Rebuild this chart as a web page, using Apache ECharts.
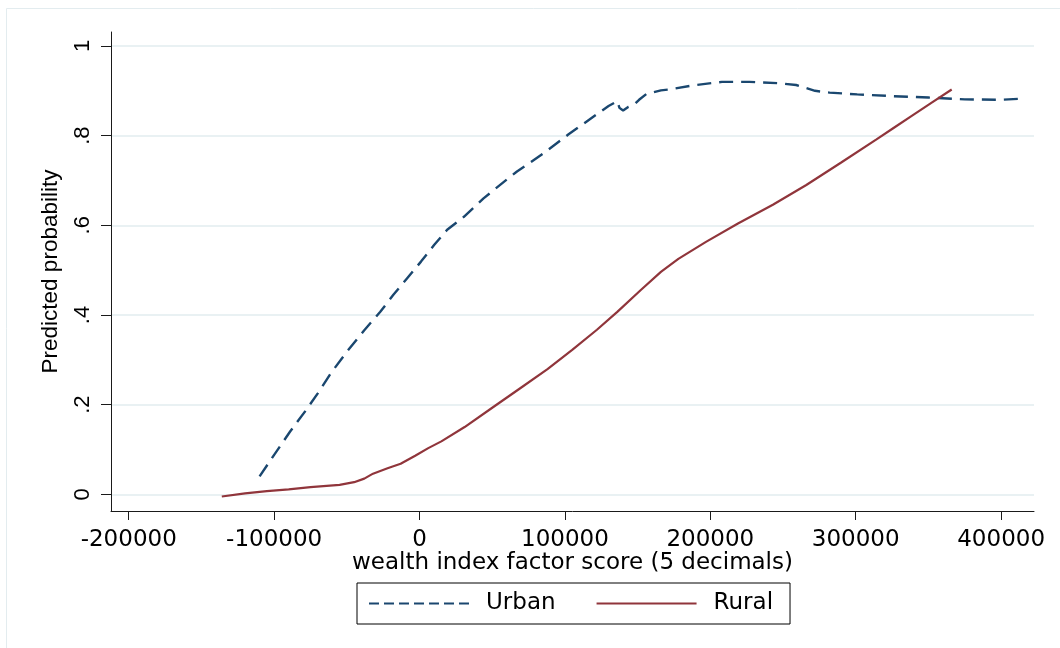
<!DOCTYPE html>
<html>
<head>
<meta charset="utf-8">
<script src="https://cdn.jsdelivr.net/npm/echarts@6/dist/echarts.min.js"></script>
<style>
html,body{margin:0;padding:0;background:#fff;}
#chart{width:1060px;height:648px;}
</style>
</head>
<body>
<div id="chart"></div>
<script>
// ---- data ----
const seriesNames = ['Urban', 'Rural'];
const xTickValues = [-200000, -100000, 0, 100000, 200000, 300000, 400000];
const yTickValues = [0, 0.2, 0.4, 0.6, 0.8, 1];
const yTickLabels = ['0', '.2', '.4', '.6', '.8', '1'];
const xTitle = 'wealth index factor score (5 decimals)';
const yTitle = 'Predicted probability';

const urbanX = [-110000, -100000, -89000, -78000, -70000, -61000, -50000, -38000, -27000, -18000,
  -8500, 1000, 10000, 19000, 30500, 44000, 58000, 67000, 74000, 85500,
  102500, 119500, 130000, 136000, 137500, 140000, 143500, 147500, 151000, 156000,
  166000, 172000, 188000, 208000, 227000, 247000, 259000, 266000, 272000, 282000,
  301000, 326000, 350000, 375000, 400000, 412000];
const urbanY = [0.040, 0.088, 0.140, 0.188, 0.225, 0.270, 0.318, 0.366, 0.407, 0.445,
  0.482, 0.519, 0.556, 0.590, 0.619, 0.660, 0.697, 0.720, 0.735, 0.761,
  0.803, 0.842, 0.866, 0.877, 0.862, 0.856, 0.864, 0.869, 0.880, 0.893,
  0.901, 0.903, 0.912, 0.920, 0.920, 0.917, 0.913, 0.906, 0.900, 0.896,
  0.892, 0.888, 0.885, 0.881, 0.880, 0.882];

const ruralX = [-136000, -120000, -105000, -90000, -75000, -55000, -45000, -38000, -32000, -22000,
  -13000, -3000, 6000, 15000, 31000, 50000, 69000, 88000, 105000, 122000,
  136000, 152000, 166000, 178000, 197000, 219000, 243000, 266000, 290000, 314000,
  326000, 338000, 352000, 366000];
const ruralY = [-0.005, 0.002, 0.007, 0.011, 0.016, 0.021, 0.027, 0.035, 0.046, 0.058,
  0.068, 0.086, 0.103, 0.118, 0.150, 0.193, 0.236, 0.279, 0.322, 0.367,
  0.407, 0.455, 0.496, 0.525, 0.563, 0.604, 0.646, 0.690, 0.740, 0.791,
  0.817, 0.843, 0.873, 0.903];

const pair = (xs, ys) => xs.map((x, i) => [x, ys[i]]);

const chart = echarts.init(document.getElementById('chart'), null, {renderer: 'canvas'});
const hFont = 'DejaVu Sans';
const vFont = 'Liberation Sans';
const axisColor = '#1a1a1a';

chart.setOption({
  backgroundColor: '#ffffff',
  animation: false,
  graphic: [{
    type: 'rect', silent: true, z: -10,
    shape: {x: 6.5, y: 8.5, width: 1200, height: 800},
    style: {fill: 'none', stroke: '#e3ecef', lineWidth: 1}
  }],
  grid: {left: 111, right: 26, top: 32, bottom: 137, containLabel: false},
  legend: {
    left: 357, top: 583,
    orient: 'horizontal',
    borderColor: '#000', borderWidth: 1, borderRadius: 0,
    padding: [9, 17, 9, 11],
    itemWidth: 100, itemHeight: 14, itemGap: 40,
    itemStyle: {opacity: 0, borderWidth: 0},
    textStyle: {fontFamily: hFont, fontSize: 23, color: '#000', padding: [0, 0, 0, 12]},
    data: [
      {name: 'Urban', lineStyle: {type: [10, 5]}},
      {name: 'Rural'}
    ]
  },
  xAxis: {
    type: 'value',
    min: -212200, max: 422600,
    name: xTitle, nameLocation: 'middle', nameGap: 41, nameMoveOverlap: false,
    nameTextStyle: {fontFamily: hFont, fontSize: 23, color: '#000'},
    axisLine: {show: true, onZero: false, lineStyle: {color: axisColor, width: 1}},
    axisTick: {show: true, length: 9, customValues: xTickValues, lineStyle: {color: axisColor}},
    axisLabel: {customValues: xTickValues, margin: 18, fontFamily: hFont, fontSize: 23, color: '#000',
      formatter: v => String(v)},
    splitLine: {show: false}
  },
  yAxis: {
    type: 'value',
    min: -0.0373, max: 1.0312,
    name: yTitle, nameLocation: 'middle', nameGap: 49, nameRotate: 90,
    nameTextStyle: {fontFamily: vFont, fontSize: 22.5, color: '#000'},
    axisLine: {show: true, onZero: false, lineStyle: {color: axisColor, width: 1}},
    axisTick: {show: true, length: 10, customValues: yTickValues, lineStyle: {color: axisColor}},
    axisLabel: {customValues: yTickValues, rotate: 90, margin: 17, fontFamily: vFont, fontSize: 22, color: '#000',
      formatter: v => { const i = yTickValues.findIndex(t => Math.abs(t - v) < 1e-9); return i >= 0 ? yTickLabels[i] : ''; }},
    splitLine: {show: true, lineStyle: {color: '#e9f1f3', width: 2}}
  },
  series: [
    {
      name: seriesNames[0], type: 'line', data: pair(urbanX, urbanY),
      symbol: 'none', smooth: false, z: 3,
      lineStyle: {color: '#1a476f', width: 2.4, type: [14, 8]},
      itemStyle: {color: '#1a476f'}
    },
    {
      name: seriesNames[1], type: 'line', data: pair(ruralX, ruralY),
      symbol: 'none', smooth: false, z: 3,
      lineStyle: {color: '#90353b', width: 2.2, type: 'solid'},
      itemStyle: {color: '#90353b'}
    }
  ]
});
</script>
</body>
</html>
